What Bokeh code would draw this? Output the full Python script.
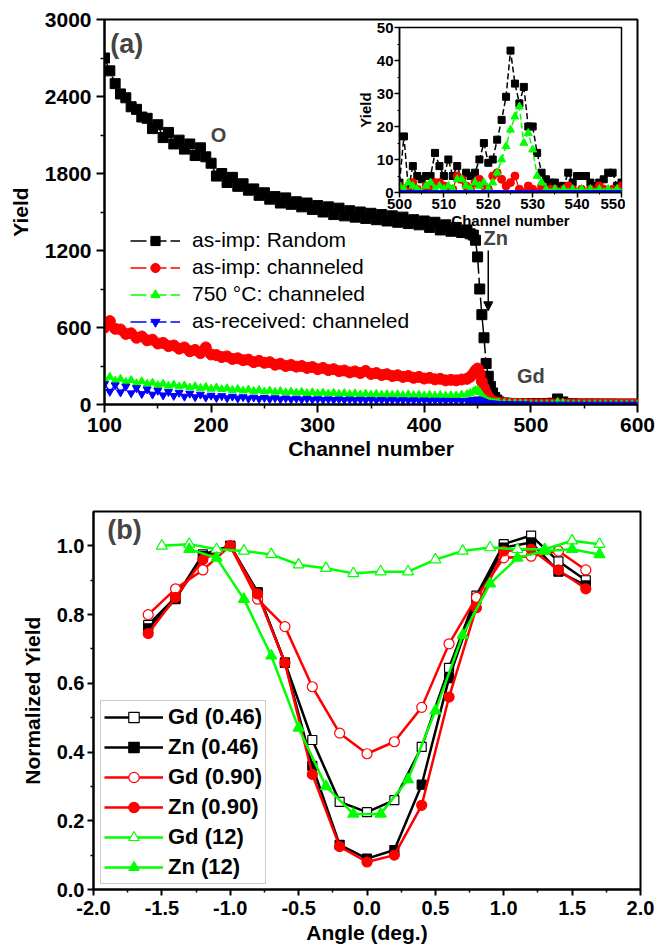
from bokeh.plotting import figure
from bokeh.layouts import column
from bokeh.models import (Range1d, FixedTicker, PrintfTickFormatter, Legend,
                          LegendItem, Label, Arrow, NormalHead, GridBox)
from bokeh.embed import file_html
from bokeh.resources import INLINE

FONT = "Liberation Sans"
BLACK, RED, GREEN, BLUE = "#000000", "#ff0000", "#00ff00", "#0000ff"

# ---------------- Panel (a) data ----------------
channel = [100, 105, 110, 115, 120, 125, 130, 135, 140, 145, 150, 155, 160, 165, 170, 175, 180, 185, 190, 195,
           200, 205, 210, 215, 220, 225, 230, 235, 240, 245, 250, 255, 260, 265, 270, 275, 280, 285, 290, 295,
           300, 305, 310, 315, 320, 325, 330, 335, 340, 345, 350, 355, 360, 365, 370, 375, 380, 385, 390, 395,
           400, 405, 410, 415, 420, 425, 430, 435, 440, 443,
           446, 448, 450, 452, 454, 456, 458, 460, 462, 464, 466, 468, 470,
           475, 480, 485, 490, 495, 500, 505, 510, 515, 520, 525, 530, 535, 540, 545, 550, 555, 560, 565, 570,
           575, 580, 585, 590, 595, 600]
random_asimp = [2700, 2600, 2500, 2420, 2390, 2320, 2300, 2240, 2230, 2150, 2180, 2080, 2120, 2030, 2060, 1990, 2030, 1940, 2000, 1930,
                1880, 1780, 1800, 1730, 1770, 1700, 1720, 1670, 1680, 1630, 1650, 1600, 1620, 1570, 1610, 1560, 1580, 1540, 1570, 1520,
                1550, 1500, 1540, 1480, 1530, 1470, 1510, 1460, 1500, 1450, 1490, 1440, 1480, 1430, 1470, 1420, 1460, 1410, 1440, 1400,
                1430, 1380, 1420, 1360, 1400, 1350, 1380, 1340, 1360, 1330,
                1320, 1280, 1150, 900, 700, 520, 320, 220, 140, 90, 55, 35, 20,
                12, 8, 7, 6, 6, 5, 5, 6, 6, 10, 43, 20, 3, 5, 3, 3, 4, 3, 3, 3,
                3, 2, 2, 2, 2, 2]
chan_asimp = [600, 650, 590, 585, 550, 555, 520, 530, 500, 505, 475, 480, 455, 460, 435, 445, 415, 425, 400, 445,
              390, 385, 370, 375, 355, 360, 345, 350, 330, 340, 325, 330, 310, 318, 300, 308, 295, 300, 285, 292,
              275, 285, 268, 275, 260, 265, 250, 258, 245, 262, 238, 245, 230, 236, 222, 228, 215, 222, 208, 215,
              202, 208, 196, 200, 188, 192, 188, 195, 200, 215,
              240, 265, 280, 240, 180, 130, 90, 60, 40, 28, 20, 15, 12,
              10, 8, 6, 5, 4, 2, 1, 2, 2, 1, 3, 1, 0, 0, 1, 2, 1, 1, 1, 1,
              1, 1, 1, 1, 1, 1]
chan_750 = [200, 215, 185, 200, 175, 190, 165, 180, 160, 170, 150, 162, 145, 155, 140, 148, 132, 142, 128, 136,
            122, 132, 118, 126, 112, 120, 108, 116, 104, 112, 100, 108, 98, 104, 94, 100, 92, 98, 88, 95,
            86, 92, 84, 90, 82, 88, 80, 86, 78, 84, 77, 82, 75, 80, 74, 79, 72, 78, 71, 76,
            70, 75, 69, 74, 68, 72, 70, 76, 80, 88,
            100, 110, 115, 95, 70, 50, 35, 25, 20, 17, 15, 14, 13,
            12, 11, 10, 9, 8, 2, 0, 1, 2, 1, 19, 13, 1, 1, 1, 1, 1, 1, 1, 1,
            1, 1, 1, 1, 1, 1]
chan_asrec = [160, 100, 150, 95, 140, 88, 128, 82, 118, 78, 108, 72, 98, 68, 92, 62, 85, 58, 78, 55,
              70, 52, 66, 50, 62, 48, 58, 46, 55, 44, 52, 42, 50, 41, 48, 40, 46, 39, 44, 38,
              42, 37, 41, 36, 40, 35, 39, 35, 38, 34, 37, 33, 36, 33, 35, 32, 34, 32, 33, 31,
              32, 30, 31, 30, 30, 29, 30, 29, 30, 32,
              35, 38, 40, 35, 28, 20, 15, 12, 10, 8, 7, 6, 5,
              4, 4, 3, 3, 3, 0, 0, 0, 0, 0, 0, 0, 0, 0, 0, 0, 0, 0, 0, 0,
              0, 0, 0, 0, 0, 0]

a_xticks = [100, 200, 300, 400, 500, 600]
a_xminor = [150, 250, 350, 450, 550]
a_yticks = [0, 600, 1200, 1800, 2400, 3000]
a_yminor = [300, 900, 1500, 2100, 2700]

# ---------------- Inset data ----------------
inset_channel = [500, 501, 502, 503, 504, 505, 506, 507, 508, 509, 510, 511, 512, 513, 514, 515, 516, 517,
                 518, 519, 520, 521, 522, 523, 524, 525, 526, 527, 528, 529, 530, 531, 532, 533, 534, 535,
                 536, 537, 538, 539, 540, 541, 542, 543, 544, 545, 546, 547, 548, 549, 550]
inset_random = [3, 17, 1, 8, 5, 4, 5, 5, 12, 8, 5, 10, 5, 8, 4, 6, 5, 6,
                10, 15, 9, 10, 16, 22, 29, 43, 33, 27, 32, 20, 20, 12, 6, 4, 3, 3,
                2, 2, 6, 3, 5, 5, 5, 3, 2, 3, 4, 6, 6, 2, 3]
inset_asimp = [2, 1, 0, 3, 1, 0, 2, 1, 3, 3, 2, 1, 1, 5, 4, 2, 1, 3,
               4, 2, 1, 5, 6, 4, 2, 3, 5, 1, 0, 2, 1, 0, 2, 0, 1, 1,
               0, 1, 2, 1, 0, 1, 0, 1, 0, 2, 1, 0, 1, 0, 2]
inset_750 = [2, 1, 3, 2, 1, 0, 2, 3, 1, 2, 1, 2, 1, 4, 4, 2, 1, 3,
             2, 3, 1, 3, 6, 10, 14, 19, 23, 26, 15, 18, 13, 5, 3, 1, 0, 1,
             0, 1, 0, 1, 0, 1, 0, 1, 0, 1, 0, 1, 0, 1, 0]
inset_asrec = [0, 0, 0, 0, 0, 0, 0, 0, 0, 0, 0, 0, 0, 0, 0, 0, 0, 0,
               0, 0, 0, 0, 0, 0, 0, 0, 0, 0, 0, 0, 0, 0, 0, 0, 0, 0,
               0, 0, 0, 0, 0, 0, 0, 0, 0, 0, 0, 0, 0, 0, 0]
inset_xticks = [500, 510, 520, 530, 540, 550]
inset_xminor = [505, 515, 525, 535, 545]
inset_yticks = [0, 10, 20, 30, 40, 50]
inset_yminor = [5, 15, 25, 35, 45]

# ---------------- Panel (b) data ----------------
angle = [-1.6, -1.4, -1.2, -1.0, -0.8, -0.6, -0.4, -0.2, 0.0, 0.2, 0.4, 0.6, 0.8, 1.0, 1.2, 1.4, 1.6]
gd_046 = [0.77, 0.85, 0.975, 1.0, 0.865, 0.66, 0.435, 0.255, 0.225, 0.26, 0.415, 0.645, 0.855, 1.005, 1.03, 0.955, 0.90]
zn_046 = [0.76, 0.845, 0.97, 1.0, 0.865, 0.66, 0.36, 0.13, 0.09, 0.115, 0.305, 0.615, 0.845, 0.995, 1.01, 0.925, 0.885]
gd_090 = [0.80, 0.875, 0.93, 1.0, 0.845, 0.765, 0.59, 0.455, 0.395, 0.43, 0.53, 0.715, 0.85, 0.965, 0.97, 0.985, 0.93]
zn_090 = [0.745, 0.85, 0.96, 1.0, 0.86, 0.66, 0.335, 0.125, 0.08, 0.10, 0.245, 0.56, 0.82, 0.985, 0.99, 0.93, 0.875]
angle_gd12 = [-1.5, -1.3, -1.1, -0.9, -0.7, -0.5, -0.3, -0.1, 0.1, 0.3, 0.5, 0.7, 0.9, 1.1, 1.3, 1.5, 1.7]
gd_12 = [1.0, 1.005, 0.99, 0.985, 0.975, 0.945, 0.935, 0.92, 0.925, 0.925, 0.96, 0.985, 0.995, 0.99, 0.99, 1.015, 1.005]
angle_zn12 = [-1.3, -1.1, -0.9, -0.7, -0.5, -0.3, -0.1, 0.1, 0.3, 0.5, 0.7, 0.9, 1.1, 1.3, 1.5, 1.7]
zn_12 = [0.99, 0.965, 0.845, 0.68, 0.47, 0.30, 0.22, 0.22, 0.32, 0.52, 0.74, 0.89, 0.965, 0.985, 0.99, 0.975]

b_xticks = [-2.0, -1.5, -1.0, -0.5, 0.0, 0.5, 1.0, 1.5, 2.0]
b_xminor = [-1.75, -1.25, -0.75, -0.25, 0.25, 0.75, 1.25, 1.75]
b_yticks = [0.0, 0.2, 0.4, 0.6, 0.8, 1.0]
b_yminor = [0.1, 0.3, 0.5, 0.7, 0.9]


def style(p, tick_px, label_px, tick_out, standoff, label_standoff, axis_w=2):
    for ax in (p.xaxis[0], p.yaxis[0]):
        ax.axis_line_width = axis_w
        ax.axis_line_color = "black"
        ax.major_tick_line_width = axis_w
        ax.minor_tick_line_width = max(1, axis_w - 0.5)
        ax.major_tick_in = 0
        ax.major_tick_out = tick_out
        ax.minor_tick_in = 0
        ax.minor_tick_out = max(2, tick_out // 2)
        ax.major_label_text_font = FONT
        ax.major_label_text_font_style = "bold"
        ax.major_label_text_font_size = f"{tick_px}px"
        ax.major_label_text_color = "black"
        ax.major_label_standoff = standoff
        ax.axis_label_text_font = FONT
        ax.axis_label_text_font_style = "bold"
        ax.axis_label_text_font_size = f"{label_px}px"
        ax.axis_label_text_color = "black"
        ax.axis_label_standoff = label_standoff
    p.grid.visible = False
    p.outline_line_color = "black"
    p.outline_line_width = axis_w
    p.outline_line_alpha = 1.0


# ================= Panel (a) =================
p1 = figure(width=657, height=481, x_range=Range1d(100, 600), y_range=Range1d(0, 3000),
            min_border_left=104, min_border_right=20, min_border_top=19, min_border_bottom=77,
            output_backend="svg", toolbar_location=None)
style(p1, 21, 21, 8, 5, 2)
p1.yaxis[0].axis_label_standoff = 10
p1.xaxis[0].axis_label = "Channel number"
p1.yaxis[0].axis_label = "Yield"
p1.xaxis[0].ticker = FixedTicker(ticks=a_xticks, minor_ticks=a_xminor)
p1.yaxis[0].ticker = FixedTicker(ticks=a_yticks, minor_ticks=a_yminor)

dash = "16 4"
series_a = [
    ("as-imp: Random", random_asimp, BLACK, "square", 10),
    ("as-imp: channeled", chan_asimp, RED, "circle", 11),
    ("750 \u00b0C: channeled", chan_750, GREEN, "triangle", 8),
    ("as-received: channeled", chan_asrec, BLUE, "inverted_triangle", 8),
]
items_a = []
for lab, vals, col, mk, sz in series_a:
    ln = p1.line(channel, vals, line_color=col, line_width=1.5, line_dash=dash)
    sc = p1.scatter(channel, vals, marker=mk, size=sz, fill_color=col, line_color=col)
    items_a.append(LegendItem(label=lab, renderers=[ln, sc]))

leg_a = Legend(items=items_a, location=(26, 71), padding=0, spacing=3, margin=0,
               glyph_width=50, glyph_height=23, label_height=23, label_standoff=12,
               border_line_color=None, background_fill_alpha=0,
               label_text_font=FONT, label_text_font_size="21px", label_text_color="black")
p1.add_layout(leg_a)

p1.add_layout(Label(x=105.5, y=2810, text="(a)", text_font=FONT, text_font_style="bold",
                    text_font_size="27px", text_baseline="middle", text_align="left"))
p1.add_layout(Label(x=207, y=2100, text="O", text_font=FONT, text_font_style="bold",
                    text_font_size="20px", text_baseline="middle", text_align="center"))
p1.add_layout(Label(x=455.5, y=1300, text="Zn", text_font=FONT, text_font_style="bold",
                    text_font_size="20px", text_baseline="middle", text_align="left"))
p1.add_layout(Arrow(end=NormalHead(size=9, fill_color="black", line_color="black"),
                    x_start=460, y_start=1200, x_end=460, y_end=730,
                    line_width=1.5, line_color="black"))
p1.add_layout(Label(x=500, y=219, text="Gd", text_font=FONT, text_font_style="bold",
                    text_font_size="20px", text_baseline="middle", text_align="center"))

# ================= Inset =================
p3 = figure(width=272, height=217, x_range=Range1d(500, 550), y_range=Range1d(0, 50),
            min_border_left=40, min_border_right=4, min_border_top=10, min_border_bottom=42,
            output_backend="svg", toolbar_location=None)
p3.border_fill_alpha = 0
p3.background_fill_color = "white"
style(p3, 15, 15, 5, 1, 0, axis_w=1.5)
p3.xaxis[0].axis_label = "Channel number"
p3.yaxis[0].axis_label = "Yield"
p3.xaxis[0].ticker = FixedTicker(ticks=inset_xticks, minor_ticks=inset_xminor)
p3.yaxis[0].ticker = FixedTicker(ticks=inset_yticks, minor_ticks=inset_yminor)
p3.line(inset_channel, inset_random, line_color=BLACK, line_width=1.5, line_dash="6 3")
p3.scatter(inset_channel, inset_random, marker="square", size=7, fill_color=BLACK, line_color=BLACK)
p3.line(inset_channel, inset_asimp, line_color=RED, line_width=1.2, line_dash="6 3")
p3.scatter(inset_channel, inset_asimp, marker="circle", size=8, fill_color=RED, line_color=RED)
p3.line(inset_channel, inset_750, line_color=GREEN, line_width=1.5, line_dash="6 3")
p3.scatter(inset_channel, inset_750, marker="triangle", size=8, fill_color=GREEN, line_color=GREEN)
p3.line(inset_channel, inset_asrec, line_color=BLUE, line_width=4)
p3.scatter(inset_channel, inset_asrec, marker="inverted_triangle", size=6, fill_color=BLUE, line_color=BLUE)

# ================= Panel (b) =================
p2 = figure(width=657, height=471, x_range=Range1d(-2, 2), y_range=Range1d(0, 1.1),
            min_border_left=93, min_border_right=17, min_border_top=30, min_border_bottom=63,
            output_backend="svg", toolbar_location=None)
style(p2, 20, 21, 6, 5, 3)
p2.yaxis[0].axis_label_standoff = 10
p2.yaxis[0].major_label_standoff = 3
p2.xaxis[0].axis_label = "Angle (deg.)"
p2.yaxis[0].axis_label = "Normalized Yield"
p2.xaxis[0].ticker = FixedTicker(ticks=b_xticks, minor_ticks=b_xminor)
p2.yaxis[0].ticker = FixedTicker(ticks=b_yticks, minor_ticks=b_yminor)
p2.xaxis[0].formatter = PrintfTickFormatter(format="%.1f")
p2.yaxis[0].formatter = PrintfTickFormatter(format="%.1f")

series_b = [
    ("Gd (0.46)", angle, gd_046, BLACK, "square", "white", 9),
    ("Zn (0.46)", angle, zn_046, BLACK, "square", BLACK, 9),
    ("Gd (0.90)", angle, gd_090, RED, "circle", "white", 10),
    ("Zn (0.90)", angle, zn_090, RED, "circle", RED, 10),
    ("Gd (12)", angle_gd12, gd_12, GREEN, "triangle", "white", 11),
    ("Zn (12)", angle_zn12, zn_12, GREEN, "triangle", GREEN, 11),
]
items_b = []
for lab, xs, ys, col, mk, fill, sz in series_b:
    ln = p2.line(xs, ys, line_color=col, line_width=2.5)
    sc = p2.scatter(xs, ys, marker=mk, size=sz, fill_color=fill, line_color=col, line_width=1.2)
    items_b.append(LegendItem(label=lab, renderers=[ln, sc]))

leg_b = Legend(items=items_b, location=(7, 5), padding=3, spacing=4, margin=0,
               glyph_width=59, glyph_height=26, label_height=26, label_standoff=5,
               border_line_color="#999999", border_line_width=1.2,
               background_fill_color="white", background_fill_alpha=1,
               label_text_font=FONT, label_text_font_style="bold",
               label_text_font_size="22px", label_text_color="black")
p2.add_layout(leg_b)
p2.add_layout(Label(x=-1.9, y=1.047, text="(b)", text_font=FONT, text_font_style="bold",
                    text_font_size="27px", text_baseline="middle", text_align="left"))

top = GridBox(children=[(p1, 0, 0, 3, 3), (p3, 1, 1, 1, 1)],
              rows=["17px", "217px", "247px"],
              cols=["353px", "272px", "32px"], spacing=0)
layout = column(top, p2, spacing=0)
open("out.html", "w").write(file_html(layout, INLINE))
